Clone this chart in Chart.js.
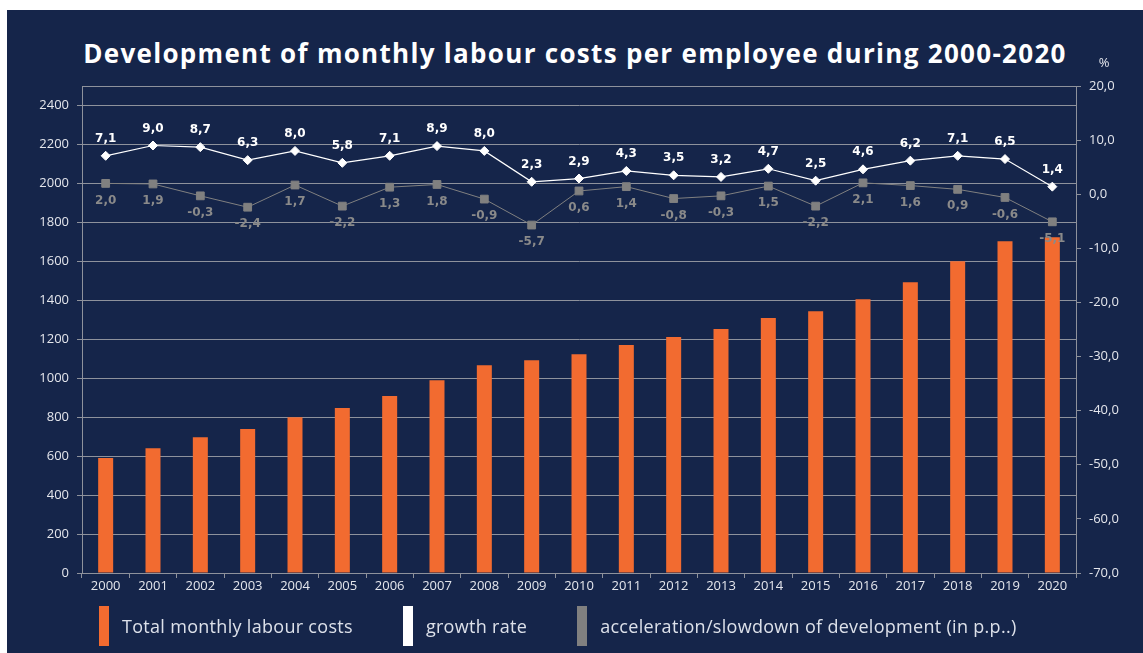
<!DOCTYPE html>
<html lang="en">
<head>
  <meta charset="UTF-8">
  <title>Monthly labour costs per employee 2000-2020</title>
  <script src="https://cdn.jsdelivr.net/npm/chart.js"></script>
  <style>
    html, body { margin: 0; padding: 0; background: #fff; }
    body { width: 1143px; height: 653px; position: relative; overflow: hidden; font-family: 'Open Sans', sans-serif; }
    .panel { position: absolute; left: 7px; top: 10px; right: 0; bottom: 0; background: #15254a; }
    h1 { position: absolute; left: 0; right: 0; top: 25px; margin: 0; text-align: center;
         color: #fff; font-size: 26px; font-weight: 700; letter-spacing: 1.3px; }
    .chart-box { position: absolute; left: 0; top: 30px; width: 1136px; height: 575px; }
    .legend { position: absolute; left: 92px; top: 596px; display: flex; gap: 50px; }
    .legend .item { display: flex; align-items: center; gap: 13px; color: #dde1ea; font-size: 18px; letter-spacing: 0.3px; }
    .legend .box { width: 10px; height: 40px; }
  </style>
</head>
<body>
  <div class="panel">
    <h1>Development of monthly labour costs per employee during 2000-2020</h1>
    <div class="chart-box"><canvas id="chart" width="1136" height="575"></canvas></div>
    <div class="legend" id="legend"></div>
  </div>

  <script>
    const years = ['2000','2001','2002','2003','2004','2005','2006','2007','2008','2009','2010',
                   '2011','2012','2013','2014','2015','2016','2017','2018','2019','2020'];
    // EUR per month
    const labourCosts = [590, 641, 697, 739, 800, 847, 908, 990, 1067, 1092, 1123,
                         1170, 1211, 1252, 1309, 1344, 1405, 1493, 1600, 1703, 1723];
    // growth rate, %
    const growthRate = [7.1, 9.0, 8.7, 6.3, 8.0, 5.8, 7.1, 8.9, 8.0, 2.3, 2.9,
                        4.3, 3.5, 3.2, 4.7, 2.5, 4.6, 6.2, 7.1, 6.5, 1.4];
    // acceleration/slowdown, p.p.
    const acceleration = [2.0, 1.9, -0.3, -2.4, 1.7, -2.2, 1.3, 1.8, -0.9, -5.7, 0.6,
                          1.4, -0.8, -0.3, 1.5, -2.2, 2.1, 1.6, 0.9, -0.6, -5.1];

    const seriesNames = ['Total monthly labour costs', 'growth rate', 'acceleration/slowdown of development (in p.p..)'];
    const colors = ['#f26b30', '#ffffff', '#808080'];

    const gridColor = '#8e929c';
    const tickColor = '#e4e6ec';
    const comma = v => v.toFixed(1).replace('.', ',');

    // value labels above / below line points
    const pointLabels = {
      id: 'pointLabels',
      afterDatasetsDraw(chart) {
        const ctx = chart.ctx;
        ctx.save();
        ctx.font = 'bold 12px "DejaVu Sans"';
        ctx.textAlign = 'center';
        ctx.textBaseline = 'middle';
        [1, 2].forEach(i => {
          const ds = chart.data.datasets[i];
          const above = i === 1;
          ctx.fillStyle = above ? '#ffffff' : '#8a8a8a';
          chart.getDatasetMeta(i).data.forEach((pt, j) => {
            ctx.fillText(comma(ds.data[j]), pt.x, pt.y + (above ? -17 : 17));
          });
        });
        ctx.restore();
      }
    };

    // top frame line and the "%" unit over the right axis
    const frame = {
      id: 'frame',
      beforeDatasetsDraw(chart) {
        const {ctx, chartArea} = chart;
        ctx.save();
        ctx.strokeStyle = gridColor;
        ctx.lineWidth = 1;
        ctx.beginPath();
        ctx.moveTo(chartArea.left, chartArea.top + 0.5);
        ctx.lineTo(chartArea.right, chartArea.top + 0.5);
        ctx.stroke();
        ctx.restore();
      },
      afterDraw(chart) {
        const {ctx, chartArea} = chart;
        ctx.save();
        ctx.fillStyle = tickColor;
        ctx.font = '13px "Open Sans"';
        ctx.textAlign = 'center';
        ctx.textBaseline = 'middle';
        ctx.fillText('%', chart.scales.y1.left + 28, chartArea.top - 23);
        ctx.restore();
      }
    };

    new Chart(document.getElementById('chart'), {
      type: 'bar',
      data: {
        labels: years,
        datasets: [
          {
            label: seriesNames[0],
            data: labourCosts,
            backgroundColor: colors[0],
            categoryPercentage: 1,
            barPercentage: 0.317,
            yAxisID: 'y',
            order: 2
          },
          {
            type: 'line',
            label: seriesNames[1],
            data: growthRate,
            borderColor: colors[1],
            borderWidth: 1.2,
            pointStyle: 'rectRot',
            pointRadius: 4.5,
            pointBorderWidth: 1,
            pointBackgroundColor: colors[1],
            pointBorderColor: colors[1],
            yAxisID: 'y1',
            order: 0
          },
          {
            type: 'line',
            label: seriesNames[2],
            data: acceleration,
            borderColor: colors[2],
            borderWidth: 1,
            pointStyle: 'rect',
            pointRadius: 5.5,
            pointBorderWidth: 1,
            pointBackgroundColor: colors[2],
            pointBorderColor: colors[2],
            yAxisID: 'y1',
            order: 1
          }
        ]
      },
      options: {
        responsive: false,
        animation: false,
        layout: { padding: { left: 0, right: 0, top: 46, bottom: 12 } },
        plugins: {
          legend: { display: false },
          title: { display: false },
          tooltip: { enabled: false }
        },
        scales: {
          x: {
            offset: true,
            grid: { drawOnChartArea: false, drawTicks: true, tickLength: 5, color: gridColor, offset: true },
            border: { color: gridColor },
            ticks: { color: tickColor, font: { family: 'Open Sans', size: 13 }, padding: 0, maxRotation: 0 },
            afterFit: s => { s.height = 30; }
          },
          y: {
            position: 'left',
            min: 0,
            max: 2500,
            ticks: { stepSize: 200, includeBounds: false, color: tickColor,
                     font: { family: 'Open Sans', size: 13 }, padding: 8, callback: v => String(v) },
            grid: { color: gridColor, tickLength: 5 },
            border: { color: gridColor },
            afterFit: s => { s.width = 75; }
          },
          y1: {
            position: 'right',
            min: -70,
            max: 20,
            ticks: { stepSize: 10, color: tickColor, font: { family: 'Open Sans', size: 13 },
                     padding: 8, callback: v => comma(v) },
            grid: { drawOnChartArea: false, color: gridColor, tickLength: 5 },
            border: { color: gridColor },
            afterFit: s => { s.width = 67; }
          }
        }
      },
      plugins: [pointLabels, frame]
    });

    // legend
    const legend = document.getElementById('legend');
    seriesNames.forEach((name, i) => {
      const item = document.createElement('div');
      item.className = 'item';
      item.innerHTML = `<span class="box" style="background:${colors[i]}"></span><span>${name}</span>`;
      legend.appendChild(item);
    });
  </script>
</body>
</html>
